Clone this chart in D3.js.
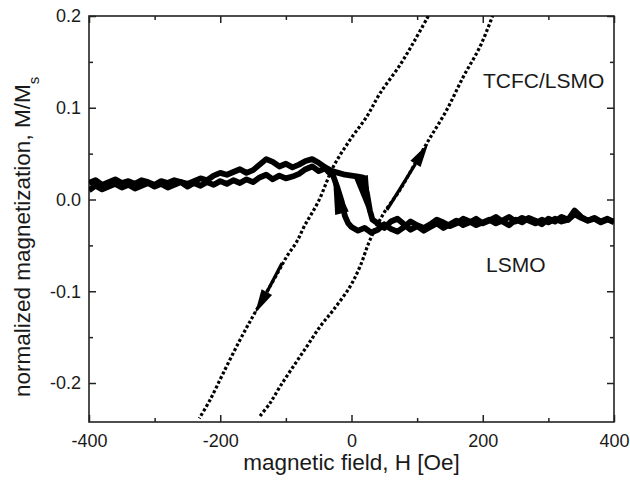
<!DOCTYPE html>
<html>
<head>
<meta charset="utf-8">
<script src="https://cdn.jsdelivr.net/npm/d3@7"></script>
<style>
    body { margin: 0; background: #fff; }
    svg { display: block; font-family: 'Liberation Sans', Arial, sans-serif; }
    .axis text { font-size: 18px; fill: #1a1a1a; }
    .axis line { stroke: #222; stroke-width: 1.5; }
    .axis-label { font-size: 22.5px; fill: #1a1a1a; }
    .annotation { font-size: 21px; fill: #1a1a1a; }
</style>
</head>
<body>
<div id="chart"></div>
<script>
const xTicks = [-400, -200, 0, 200, 400]
const xMinorTicks = [-300, -100, 100, 300]
const yTicks = [-0.2, -0.1, 0.0, 0.1, 0.2]
const yMinorTicks = [-0.15, -0.05, 0.05, 0.15]

// TCFC/LSMO loop, [H (Oe), M/Ms]
const tcfcDown = [
    [117, 0.200], [96.8, 0.174], [73.9, 0.1466], [43.4, 0.1157], [23.2, 0.0903], [-2.3, 0.0649],
    [-27.7, 0.0357], [-50.6, -0.0024], [-70.9, -0.0278], [-83.5, -0.046], [-98.8, -0.0623],
    [-111.5, -0.0787], [-144.5, -0.120], [-169.9, -0.153], [-195.3, -0.189], [-215.6, -0.2185],
    [-231.9, -0.2385]
]
const tcfcUp = [
    [-139.4, -0.236], [-124.2, -0.222], [-109, -0.204], [-88.7, -0.182], [-68.3, -0.1604],
    [-48, -0.1386], [-27.7, -0.1204], [-2.3, -0.095], [13, -0.073], [28.2, -0.044], [50, -0.014],
    [73.9, 0.0104], [94.2, 0.036], [117, 0.064], [145, 0.0975], [170.4, 0.1338], [195.8, 0.1665],
    [215, 0.200]
]

// LSMO loop, [H (Oe), M/Ms]
const lsmoDown = [
    [400, -0.024], [390, -0.022], [380, -0.025], [370, -0.021], [360, -0.023], [350, -0.020],
    [340, -0.016], [330, -0.022], [320, -0.024], [310, -0.021], [300, -0.025], [290, -0.022],
    [280, -0.026], [270, -0.023], [260, -0.020], [250, -0.024], [240, -0.019], [230, -0.023],
    [220, -0.026], [210, -0.022], [200, -0.025], [190, -0.028], [180, -0.024], [170, -0.021],
    [160, -0.026], [150, -0.029], [140, -0.025], [130, -0.022], [120, -0.027], [110, -0.031],
    [100, -0.028], [90, -0.024], [80, -0.030], [70, -0.035], [60, -0.032], [50, -0.027],
    [40, -0.033], [30, -0.036], [20, -0.031], [10, -0.034], [0, -0.030], [-5, -0.026],
    [-10, -0.018], [-15, -0.002], [-22, 0.014], [-28, 0.026], [-35, 0.030], [-40, 0.034],
    [-50, 0.031], [-60, 0.036], [-70, 0.033], [-80, 0.028], [-90, 0.025], [-100, 0.023],
    [-110, 0.026], [-120, 0.022], [-130, 0.027], [-140, 0.024], [-150, 0.019], [-160, 0.022],
    [-170, 0.018], [-180, 0.021], [-190, 0.017], [-200, 0.020], [-210, 0.016], [-220, 0.019],
    [-230, 0.015], [-240, 0.018], [-250, 0.014], [-260, 0.019], [-270, 0.016], [-280, 0.013],
    [-290, 0.017], [-300, 0.014], [-310, 0.018], [-320, 0.015], [-330, 0.012], [-340, 0.016],
    [-350, 0.013], [-360, 0.017], [-370, 0.014], [-380, 0.011], [-390, 0.015], [-400, 0.010]
]
const lsmoUp = [
    [-400, 0.018], [-390, 0.021], [-380, 0.016], [-370, 0.019], [-360, 0.022], [-350, 0.018],
    [-340, 0.020], [-330, 0.017], [-320, 0.021], [-310, 0.019], [-300, 0.016], [-290, 0.020],
    [-280, 0.018], [-270, 0.021], [-260, 0.019], [-250, 0.017], [-240, 0.020], [-230, 0.023],
    [-220, 0.021], [-210, 0.026], [-200, 0.029], [-190, 0.027], [-180, 0.030], [-170, 0.033],
    [-160, 0.029], [-150, 0.032], [-140, 0.038], [-130, 0.044], [-120, 0.041], [-110, 0.036],
    [-100, 0.039], [-90, 0.035], [-80, 0.038], [-70, 0.042], [-60, 0.044], [-50, 0.040],
    [-40, 0.035], [-30, 0.031], [-20, 0.029], [-10, 0.027], [0, 0.026], [10, 0.025],
    [18, 0.024], [24, 0.005], [28, -0.012], [32, -0.022], [40, -0.026], [50, -0.031],
    [60, -0.024], [70, -0.021], [80, -0.027], [90, -0.033], [100, -0.029], [110, -0.034],
    [120, -0.030], [130, -0.026], [140, -0.031], [150, -0.027], [160, -0.023], [170, -0.028],
    [180, -0.025], [190, -0.021], [200, -0.026], [210, -0.023], [220, -0.019], [230, -0.024],
    [240, -0.028], [250, -0.022], [260, -0.025], [270, -0.020], [280, -0.023], [290, -0.027],
    [300, -0.021], [310, -0.024], [320, -0.019], [330, -0.022], [340, -0.012], [350, -0.019],
    [360, -0.023], [370, -0.020], [380, -0.024], [390, -0.021], [400, -0.025]
]

// arrows: shaft start, head base, head tip (data coords)
const tcfcArrows = [
    [[-106, -0.0696], [-129, -0.101], [-147, -0.124]],
    [[54, -0.0114], [97.5, 0.0388], [117, 0.061]]
]
const lsmoArrows = [
    [[-14.5, -0.015], [-28, 0.023]],
    [[14.5, 0.025], [30, -0.022]]
]

class HysteresisChart {
    constructor() {
        this.DIMENSIONS = {
            width: 630,
            height: 487,
            margin_left: 89,
            margin_right: 16,
            margin_top: 16,
            margin_bottom: 65
        }
        this.DIMENSIONS.drawable_width = this.DIMENSIONS.width - this.DIMENSIONS.margin_left - this.DIMENSIONS.margin_right
        this.DIMENSIONS.drawable_height = this.DIMENSIONS.height - this.DIMENSIONS.margin_top - this.DIMENSIONS.margin_bottom

        this.svg = d3.select('#chart').append('svg')
            .attr('width', this.DIMENSIONS.width)
            .attr('height', this.DIMENSIONS.height)

        this.plot = this.svg.append('g')
            .attr('transform', `translate(${this.DIMENSIONS.margin_left}, ${this.DIMENSIONS.margin_top})`)

        this.createScales()
        this.createAxes()
        this.createAxisLabels()
        this.update()
    }

    createScales() {
        this.xScale = d3.scaleLinear()
            .domain([-400, 400])
            .range([0, this.DIMENSIONS.drawable_width])
        this.yScale = d3.scaleLinear()
            .domain([-0.2425, 0.2])
            .range([this.DIMENSIONS.drawable_height, 0])
    }

    createAxes() {
        const w = this.DIMENSIONS.drawable_width
        const h = this.DIMENSIONS.drawable_height

        const addAxis = (axis, transform, withLabels) => {
            const g = this.plot.append('g')
                .attr('class', 'axis')
                .attr('transform', transform)
                .call(axis)
            g.select('.domain').remove()
            if (!withLabels) g.selectAll('text').remove()
        }

        addAxis(d3.axisBottom(this.xScale).tickValues(xTicks).tickSizeInner(-7).tickSizeOuter(0)
            .tickPadding(12).tickFormat(d => String(d)), `translate(0, ${h})`, true)
        addAxis(d3.axisBottom(this.xScale).tickValues(xMinorTicks).tickSize(-4), `translate(0, ${h})`, false)
        addAxis(d3.axisTop(this.xScale).tickValues(xTicks).tickSize(-7), 'translate(0, 0)', false)
        addAxis(d3.axisTop(this.xScale).tickValues(xMinorTicks).tickSize(-4), 'translate(0, 0)', false)

        addAxis(d3.axisLeft(this.yScale).tickValues(yTicks).tickSizeInner(-7).tickSizeOuter(0)
            .tickPadding(8).tickFormat(d => d.toFixed(1)), 'translate(0, 0)', true)
        addAxis(d3.axisLeft(this.yScale).tickValues(yMinorTicks).tickSize(-4), 'translate(0, 0)', false)
        addAxis(d3.axisRight(this.yScale).tickValues(yTicks).tickSize(-7), `translate(${w}, 0)`, false)
        addAxis(d3.axisRight(this.yScale).tickValues(yMinorTicks).tickSize(-4), `translate(${w}, 0)`, false)

        this.plot.append('rect')
            .attr('width', w)
            .attr('height', h)
            .attr('fill', 'none')
            .attr('stroke', '#222')
            .attr('stroke-width', 1.6)

        this.svg.append('defs').append('clipPath')
            .attr('id', 'plot-clip')
            .append('rect')
            .attr('width', w)
            .attr('height', h)
    }

    createAxisLabels() {
        this.svg.append('text')
            .attr('class', 'axis-label')
            .attr('text-anchor', 'middle')
            .attr('x', this.DIMENSIONS.margin_left + this.DIMENSIONS.drawable_width / 2)
            .attr('y', 470)
            .text('magnetic field, H [Oe]')

        const yl = this.svg.append('text')
            .attr('class', 'axis-label')
            .attr('text-anchor', 'start')
            .attr('transform', 'translate(30, 397) rotate(-90)')
        yl.append('tspan').text('normalized magnetization, M/M')
        yl.append('tspan').attr('baseline-shift', 'sub').attr('font-size', '15px').text('s')

        this.plot.append('text')
            .attr('class', 'annotation')
            .attr('x', 483 - this.DIMENSIONS.margin_left)
            .attr('y', 88 - this.DIMENSIONS.margin_top)
            .text('TCFC/LSMO')

        this.plot.append('text')
            .attr('class', 'annotation')
            .attr('x', 486 - this.DIMENSIONS.margin_left)
            .attr('y', 272 - this.DIMENSIONS.margin_top)
            .text('LSMO')
    }

    arrowHead(base, tip, width) {
        const b = [this.xScale(base[0]), this.yScale(base[1])]
        const t = [this.xScale(tip[0]), this.yScale(tip[1])]
        const len = Math.hypot(t[0] - b[0], t[1] - b[1])
        const nx = -(t[1] - b[1]) / len * width / 2
        const ny = (t[0] - b[0]) / len * width / 2
        return `M${t[0]},${t[1]}L${b[0] + nx},${b[1] + ny}L${b[0] - nx},${b[1] - ny}Z`
    }

    update() {
        const data = this.plot.append('g').attr('clip-path', 'url(#plot-clip)')

        const dotted = d3.line()
            .x(d => this.xScale(d[0]))
            .y(d => this.yScale(d[1]))
            .curve(d3.curveCatmullRom.alpha(0.5))

        data.selectAll('.tcfc')
            .data([tcfcDown, tcfcUp])
            .join('path')
            .attr('class', 'tcfc')
            .attr('d', dotted)
            .attr('fill', 'none')
            .attr('stroke', '#000')
            .attr('stroke-width', 3.2)
            .attr('stroke-dasharray', '3 2.2')

        const noisy = d3.line()
            .x(d => this.xScale(d[0]))
            .y(d => this.yScale(d[1]))

        data.selectAll('.lsmo')
            .data([lsmoDown, lsmoUp])
            .join('path')
            .attr('class', 'lsmo')
            .attr('d', noisy)
            .attr('fill', 'none')
            .attr('stroke', '#000')
            .attr('stroke-width', 5.8)
            .attr('stroke-linejoin', 'round')

        tcfcArrows.forEach(a => {
            data.append('line')
                .attr('x1', this.xScale(a[0][0]))
                .attr('y1', this.yScale(a[0][1]))
                .attr('x2', this.xScale(a[1][0]))
                .attr('y2', this.yScale(a[1][1]))
                .attr('stroke', '#000')
                .attr('stroke-width', 3.2)
            data.append('path')
                .attr('d', this.arrowHead(a[1], a[2], 12))
                .attr('fill', '#000')
        })

        lsmoArrows.forEach(a => {
            data.append('path')
                .attr('d', this.arrowHead(a[0], a[1], 14))
                .attr('fill', '#000')
        })
    }
}

new HysteresisChart()
</script>
</body>
</html>
